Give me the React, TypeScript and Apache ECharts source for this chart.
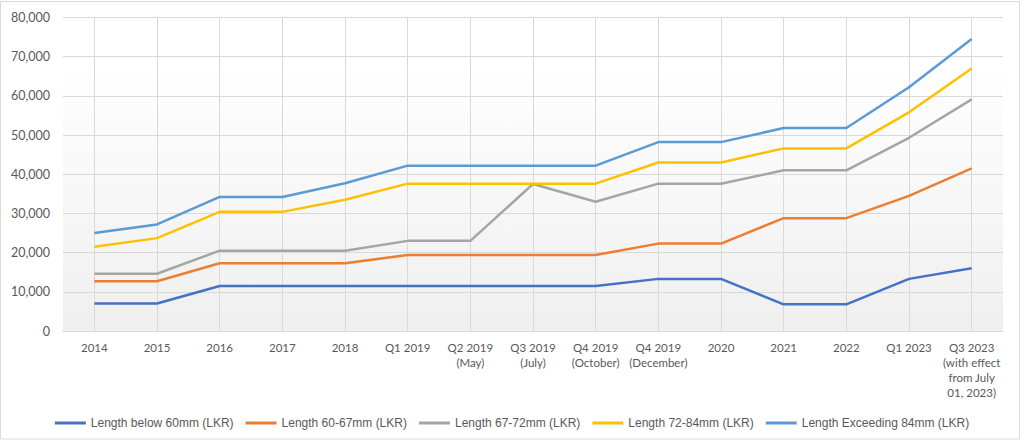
import React, { useEffect, useRef } from "react";
import * as echarts from "echarts";

const categories = [
  "2014", "2015", "2016", "2017", "2018", "Q1 2019", "Q2 2019\n(May)", "Q3 2019\n(July)",
  "Q4 2019\n(October)", "Q4 2019\n(December)", "2020", "2021", "2022", "Q1 2023",
  "Q3 2023\n(with effect\nfrom July\n01, 2023)",
];

const below60 = [7000, 7000, 11500, 11500, 11500, 11500, 11500, 11500, 11500, 13300, 13300, 6800, 6800, 13300, 16000];
const len60to67 = [12700, 12700, 17300, 17300, 17300, 19400, 19400, 19400, 19400, 22300, 22300, 28800, 28800, 34500, 41500];
const len67to72 = [14600, 14600, 20500, 20500, 20500, 23000, 23000, 37500, 33000, 37600, 37600, 41000, 41000, 49300, 59100];
const len72to84 = [21500, 23700, 30400, 30400, 33500, 37600, 37600, 37600, 37600, 43000, 43000, 46600, 46600, 55800, 67000];
const exceeding84 = [25000, 27200, 34200, 34200, 37700, 42200, 42200, 42200, 42200, 48200, 48200, 51800, 51800, 62200, 74500];

const seriesNames = [
  "Length below 60mm (LKR)",
  "Length 60-67mm (LKR)",
  "Length 67-72mm (LKR)",
  "Length 72-84mm (LKR)",
  "Length Exceeding 84mm (LKR)",
];
const seriesData = [below60, len60to67, len67to72, len72to84, exceeding84];
const colors = ["#4472c4", "#ed7d31", "#a5a5a5", "#ffc000", "#5b9bd5"];

export default function App() {
  const ref = useRef<HTMLDivElement>(null);
  useEffect(() => {
    if (!ref.current) return;
    const chart = echarts.init(ref.current, null, { renderer: "svg" });
    chart.setOption({
      animation: false,
      backgroundColor: "#ffffff",
      color: colors,
      graphic: [
        {
          type: "rect",
          shape: { x: 0.5, y: 1.5, width: 1019, height: 437.5 },
          style: { fill: "none", stroke: "#d9d9d9", lineWidth: 1 },
          silent: true,
        },
      ],
      grid: {
        left: 63,
        right: 21,
        top: 17.5,
        bottom: 112,
        show: true,
        borderWidth: 0,
        backgroundColor: new echarts.graphic.LinearGradient(0, 0, 0, 1, [
          { offset: 0, color: "#ffffff" },
          { offset: 0.15, color: "#ffffff" },
          { offset: 1, color: "#efefef" },
        ]),
      },
      legend: {
        left: "center",
        top: 412,
        icon: "rect",
        itemWidth: 31,
        itemHeight: 3,
        itemGap: 12,
        textStyle: { fontFamily: "Liberation Sans", fontSize: 12, color: "#595959" },
        data: seriesNames,
      },
      xAxis: {
        type: "category",
        data: categories,
        boundaryGap: true,
        axisLine: { show: true, lineStyle: { color: "#d9d9d9", width: 1 } },
        axisTick: { show: false },
        splitLine: { show: true, alignWithLabel: true, lineStyle: { color: "#d9d9d9", width: 1 } },
        axisLabel: {
          interval: 0,
          margin: 9,
          fontFamily: "Lato",
          fontSize: 11.5,
          color: "#595959",
          lineHeight: 15,
        },
      },
      yAxis: {
        type: "value",
        min: 0,
        max: 80000,
        interval: 10000,
        axisLine: { show: false },
        axisTick: { show: false },
        splitLine: { show: true, lineStyle: { color: "#d9d9d9", width: 1 } },
        axisLabel: {
          margin: 13,
          fontFamily: "Lato",
          fontSize: 12.5,
          color: "#595959",
          formatter: (v: number) => v.toLocaleString("en-US"),
        },
      },
      series: seriesNames.map((name, i) => ({
        name,
        type: "line",
        data: seriesData[i],
        showSymbol: false,
        symbol: "none",
        lineStyle: { width: 2.5, color: colors[i] },
        itemStyle: { color: colors[i] },
      })),
    });
    return () => chart.dispose();
  }, []);
  return (
    <div
      ref={ref}
      style={{ position: "fixed", left: 0, top: 0, width: 1024, height: 443 }}
    />
  );
}
